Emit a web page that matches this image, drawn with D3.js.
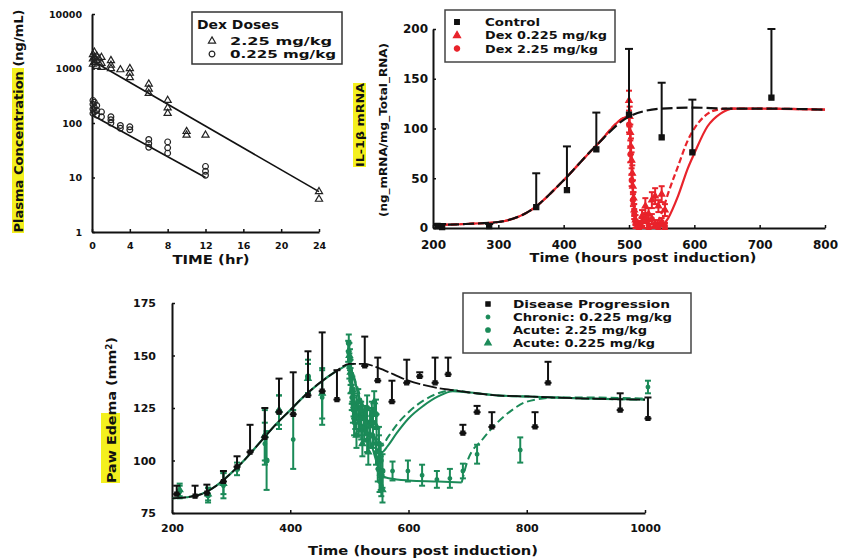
<!DOCTYPE html>
<html>
<head>
<meta charset="utf-8">
<script src="https://cdn.jsdelivr.net/npm/d3@7"></script>
<style>
  body { margin: 0; background: #fff; }
  text { font-family: "DejaVu Sans", sans-serif; font-weight: bold; fill: #111; }
</style>
</head>
<body>
<script>
// ---------- data : plasma concentration (top left) ----------
var pkHighDose = [[0.1,1800],[0.1,1500],[0.1,1200],[0.25,2000],[0.25,1600],[0.25,1300],[0.5,1700],[0.5,1400],[0.5,1100],
  [0.75,1500],[1,1600],[1,1250],[1,1050],[2,1400],[2,1150],[2,1000],[3,950],[4,1000],[4,820],[4,680],[6,520],[6,420],[6,350],
  [8,260],[8,190],[8,150],[10,70],[10,60],[12,60],[24,5.5],[24,4]];
var pkLowDose = [[0.1,260],[0.1,220],[0.1,180],[0.1,150],[0.25,240],[0.25,190],[0.25,160],[0.5,210],[0.5,170],[0.5,140],
  [1,160],[1,130],[2,130],[2,115],[2,100],[3,90],[3,80],[4,85],[4,75],[6,50],[6,42],[6,36],[8,45],[8,35],[8,28],[12,16],[12,13],[12,11]];
var pkHighFit = [[0,1400],[24,5.5]];
var pkLowFit = [[0,140],[12,10]];
var pkXTicks = [0,4,8,12,16,20,24];
var pkYTicks = [1,10,100,1000,10000];

// ---------- data : IL-1b mRNA (top right) ----------
var ilControl = [[207,2,2],[214,1,3],[286,2,2],[358,21,34],[405,38,44],[450,79,37],[500,114,66],[550,91,55],[597,76,53],[718,131,69]];
var ilLowDose = [[500,128,10],[501,112,10],[502,96,8],[503,82,8],[504,68,8],[505,55,8],[506,42,6],[507,30,6],[508,18,6],[510,8,5],
  [515,3,4],[520,12,6],[525,22,8],[530,14,6],[535,28,8],[540,32,8],[545,22,6],[550,34,8],[555,18,6]];
var ilHighDose = [[500,104,8],[502,74,8],[504,48,6],[506,28,6],[508,14,5],[510,4,4],[515,2,3],[520,6,4],[525,10,5],[530,3,4],
  [535,9,5],[540,4,4],[545,2,3],[550,6,4],[555,2,3]];
var ilControlFit = [[200,3],[250,4],[300,6],[350,18],[400,48],[450,83],[500,112],[550,120],[600,121],[650,120],[700,120],[800,119]];
var ilLowFit = [[200,3],[250,4],[300,6],[350,18],[400,48],[450,83],[500,112],[503,80],[506,40],[510,8],[520,0],[530,0],[540,3],
  [550,15],[560,35],[575,62],[590,88],[600,100],[615,112],[630,118],[650,120],[700,120],[800,119]];
var ilHighFit = [[200,3],[250,4],[300,6],[350,18],[400,48],[450,83],[500,112],[503,75],[506,35],[510,5],[520,0],[540,0],[550,2],
  [560,10],[575,32],[590,60],[600,75],[620,102],[640,115],[660,120],[700,120],[800,119]];
var ilXTicks = [200,300,400,500,600,700,800];
var ilYTicks = [0,50,100,150,200];

// ---------- data : paw edema (bottom) ----------
var pawDisease = [[208,84,4],[239,83,5],[259,84.5,4],[287,90,5],[310,97,5],[332,104,13],[357,111,14],[381,123,16],[405,122,20],
  [430,131,21],[454,133,28],[479,129,14],[526,145,14],[548,138,11],[572,128,10],[597,137,11],[619,140,2],[645,137,12],[667,141,8],
  [692,113,4],[716,123,3],[741,116,7],[814,116,7],[836,137,10],[958,124,8],[1005,120,10]];
var pawChronic = [[213,85,3],[287,88,6],[357,108,10],[405,110,14],[454,130,13],[498,152,5],[500,145,6],[502,138,6],[504,130,6],
  [506,124,6],[508,118,6],[512,125,6],[516,118,6],[520,122,6],[525,115,6],[530,110,6],[535,118,6],[540,112,6],[545,104,6],
  [548,96,6],[551,90,5],[554,88,5],[573,95,4.5],[599,95,5],[623,93,5],[648,91,4],[670,91.5,4.5],[692,95,3.5],[716,103,4.5],
  [789,105,6],[1005,135,3]];
var pawAcuteHigh = [[261,83.5,3.5],[310,96,3],[360,100,14],[381,123,8],[430,140,8],[499,156,4],[501,148,5],[503,141,5],
  [505,134,6],[507,127,6],[510,121,6],[515,128,6],[520,116,6],[525,120,6],[530,125,6],[535,112,6],[540,118,7],[545,122,7],
  [550,108,8],[553,100,8],[556,95,8]];
var pawAcuteLow = [[213,86,3],[261,84,3],[287,89,5],[357,112,12],[381,124,7],[430,139,7],[454,132,12],[500,150,6],[502,142,6],
  [504,133,6],[508,126,6],[512,112,6],[518,120,6],[522,108,6],[528,118,6],[532,104,6],[538,122,6],[542,128,5],[546,116,6],
  [550,104,8],[553,94,8],[556,86,6]];
var pawDiseaseFit = [[200,82],[225,82.5],[250,84],[275,88],[300,94],[325,101],[350,109],[375,117],[400,124],[425,131],[450,137],
  [475,142],[500,146],[525,146],[550,144],[575,141],[600,138],[625,136],[650,134.5],[675,133.5],[700,132.5],[750,131],[800,130.5],
  [900,129.5],[1000,129]];
var pawRise = [[200,82],[225,82.5],[250,84],[275,88],[300,94],[325,101],[350,109],[375,117],[400,124],[425,131],[450,137],[475,142],[500,146]];
var pawAcuteLowFit = [[510,137],[520,127],[530,118],[540,110],[548,105],[555,104],[565,107],[580,113],[600,120],[625,126],[650,130.5],
  [675,133],[700,132.5],[750,131],[800,130.5],[900,129.5],[1000,129]];
var pawAcuteHighFit = [[510,138],[520,129],[530,121],[540,113],[548,108],[555,107],[565,111],[580,117],[600,123],[625,128.5],[650,132],
  [675,133.5],[700,132.5],[750,131],[800,130.5],[900,129.5],[1000,129]];
var pawChronicFit = [[510,137],[520,126],[530,115],[540,105],[550,96],[560,92],[580,91],[600,90.5],[650,90],[690,89.5]];
var pawChronicOff = [[690,89.5],[700,100],[725,110],[750,118],[775,124],[800,128],[850,130],[900,130],[1000,129.5]];
var pawXTicks = [200,400,600,800,1000];
var pawYTicks = [75,100,125,150,175];

var RED = "#e8232b", GREEN = "#1b8a58", YELLOW = "#f4f01e";

var svg = d3.select("body").append("svg").attr("width", 844).attr("height", 559);

// ---------- helpers ----------
function styleAxis(g, fs) {
  g.select(".domain").attr("stroke", "#111").attr("stroke-width", 2);
  g.selectAll(".tick line").attr("stroke", "#111").attr("stroke-width", 1.5);
  g.selectAll(".tick text").attr("font-size", fs).attr("fill", "#111")
    .attr("font-family", "DejaVu Sans").attr("font-weight", "bold");
}
function errBars(g, data, sx, sy, color, upOnly, cw, bottomCap) {
  var e = g.append("g").selectAll("g").data(data).enter().append("g");
  e.append("line")
    .attr("x1", function(d){ return sx(d[0]); }).attr("x2", function(d){ return sx(d[0]); })
    .attr("y1", function(d){ return sy(upOnly ? d[1] : d[1]-d[2]); })
    .attr("y2", function(d){ return sy(d[1]+d[2]); })
    .attr("stroke", color).attr("stroke-width", 2);
  e.append("line")
    .attr("x1", function(d){ return sx(d[0])-cw; }).attr("x2", function(d){ return sx(d[0])+cw; })
    .attr("y1", function(d){ return sy(d[1]+d[2]); }).attr("y2", function(d){ return sy(d[1]+d[2]); })
    .attr("stroke", color).attr("stroke-width", 2);
  if (bottomCap) {
    e.append("line")
      .attr("x1", function(d){ return sx(d[0])-cw; }).attr("x2", function(d){ return sx(d[0])+cw; })
      .attr("y1", function(d){ return sy(upOnly ? d[1] : d[1]-d[2]); })
      .attr("y2", function(d){ return sy(upOnly ? d[1] : d[1]-d[2]); })
      .attr("stroke", color).attr("stroke-width", 2);
  }
}
function marks(g, data, sx, sy, type, size, fill, stroke) {
  g.append("g").selectAll("path").data(data).enter().append("path")
    .attr("transform", function(d){ return "translate(" + sx(d[0]) + "," + sy(d[1]) + ")"; })
    .attr("d", d3.symbol().type(type).size(size))
    .attr("fill", fill).attr("stroke", stroke).attr("stroke-width", 1.2);
}
function curve(g, data, sx, sy, color, w, dash) {
  g.append("path").datum(data)
    .attr("d", d3.line().x(function(d){ return sx(d[0]); }).y(function(d){ return sy(d[1]); }).curve(d3.curveMonotoneX))
    .attr("fill", "none").attr("stroke", color).attr("stroke-width", w)
    .attr("stroke-dasharray", dash || null);
}
function label(g, txt, x, y, fs, len, anchor, rot) {
  var t = g.append("text").attr("font-size", fs).text(txt)
    .attr("text-anchor", anchor || "start");
  if (len) t.attr("textLength", len).attr("lengthAdjust", "spacingAndGlyphs");
  if (rot) t.attr("transform", "translate(" + x + "," + y + ") rotate(-90)");
  else t.attr("x", x).attr("y", y);
  return t;
}

// =================== panel 1 : plasma concentration ===================
var x1 = d3.scaleLinear().domain([0, 24]).range([92, 319]);
var y1 = d3.scaleLog().domain([1, 10000]).range([232, 14]);
var p1 = svg.append("g");

p1.append("rect").attr("x", 12).attr("y", 68).attr("width", 12).attr("height", 165).attr("fill", YELLOW);
label(p1, "Plasma Concentration (ng/mL)", 22.5, 121, 12, 223, "middle", true);

p1.append("g").attr("transform", "translate(0,232)")
  .call(d3.axisBottom(x1).tickValues(pkXTicks).tickSizeInner(-3).tickSizeOuter(0).tickPadding(10).tickFormat(d3.format("d")))
  .call(styleAxis, 9.5);
p1.append("g").attr("transform", "translate(92,0)")
  .call(d3.axisLeft(y1).tickValues(pkYTicks).tickSizeInner(-3).tickSizeOuter(0).tickPadding(10).tickFormat(d3.format("d")))
  .call(styleAxis, 9.5);
label(p1, "TIME (hr)", 211, 264, 13, 77, "middle");

curve(p1, pkHighFit, x1, y1, "#111", 1.6);
curve(p1, pkLowFit, x1, y1, "#111", 1.6);
marks(p1, pkHighDose, x1, y1, d3.symbolTriangle, 22, "none", "#222");
marks(p1, pkLowDose, x1, y1, d3.symbolCircle, 26, "none", "#222");

p1.append("rect").attr("x", 192).attr("y", 12).attr("width", 150).attr("height", 52)
  .attr("fill", "#fff").attr("stroke", "#333").attr("stroke-width", 1.5);
label(p1, "Dex Doses", 197, 28.5, 12, 82);
marks(p1, [[0,0]], function(){ return 212; }, function(){ return 41; }, d3.symbolTriangle, 22, "none", "#222");
label(p1, "2.25 mg/kg", 230, 45, 11, 102);
marks(p1, [[0,0]], function(){ return 212; }, function(){ return 54; }, d3.symbolCircle, 26, "none", "#222");
label(p1, "0.225 mg/kg", 230, 58, 11, 106);

// =================== panel 2 : IL-1b mRNA ===================
var x2 = d3.scaleLinear().domain([200, 800]).range([433, 825]);
var y2 = d3.scaleLinear().domain([0, 200]).range([228, 29]);
var p2 = svg.append("g");

p2.append("rect").attr("x", 353).attr("y", 83).attr("width", 13).attr("height", 84).attr("fill", YELLOW);
label(p2, "IL-1\u03b2  mRNA", 363.5, 125, 10, 84, "middle", true);
label(p2, "(ng_mRNA/mg_Total_RNA)", 386.5, 130, 10, 174, "middle", true);

p2.append("g").attr("transform", "translate(0,228)")
  .call(d3.axisBottom(x2).tickValues(ilXTicks).tickSizeInner(-3).tickSizeOuter(0).tickPadding(12))
  .call(styleAxis, 12);
p2.append("g").attr("transform", "translate(433,0)")
  .call(d3.axisLeft(y2).tickValues(ilYTicks).tickSizeInner(-3).tickSizeOuter(0).tickPadding(5))
  .call(styleAxis, 12);
label(p2, "Time (hours post induction)", 643, 262, 13, 227, "middle");

curve(p2, ilHighFit, x2, y2, RED, 2.2);
curve(p2, ilLowFit, x2, y2, RED, 2.2, "6,3");
errBars(p2, ilLowDose, x2, y2, RED, false, 3, true);
errBars(p2, ilHighDose, x2, y2, RED, false, 3, true);
marks(p2, ilLowDose, x2, y2, d3.symbolTriangle, 18, RED, RED);
marks(p2, ilHighDose, x2, y2, d3.symbolCircle, 18, RED, RED);
curve(p2, ilControlFit, x2, y2, "#111", 2.2, "11,4");
errBars(p2, ilControl, x2, y2, "#111", true, 4, false);
marks(p2, ilControl, x2, y2, d3.symbolSquare, 26, "#111", "#111");

p2.append("rect").attr("x", 445).attr("y", 10).attr("width", 170).attr("height", 52)
  .attr("fill", "#fff").attr("stroke", "#444").attr("stroke-width", 1.5);
marks(p2, [[0,0]], function(){ return 457; }, function(){ return 22; }, d3.symbolSquare, 22, "#111", "#111");
label(p2, "Control", 485, 26, 10.5, 55);
marks(p2, [[0,0]], function(){ return 457; }, function(){ return 35.5; }, d3.symbolTriangle, 22, RED, RED);
label(p2, "Dex 0.225 mg/kg", 485, 39.3, 10.5, 122);
marks(p2, [[0,0]], function(){ return 457; }, function(){ return 48.5; }, d3.symbolCircle, 22, RED, RED);
label(p2, "Dex 2.25 mg/kg", 485, 52.5, 10.5, 113);

// =================== panel 3 : paw edema ===================
var x3 = d3.scaleLinear().domain([200, 1000]).range([172, 645]);
var y3 = d3.scaleLinear().domain([75, 175]).range([513, 303]);
var p3 = svg.append("g");

p3.append("rect").attr("x", 101).attr("y", 413).attr("width", 19).attr("height", 70).attr("fill", YELLOW);
var pt = label(p3, "Paw Edema (mm", 116, 410, 13, null, "middle", true);
pt.append("tspan").attr("baseline-shift", "super").attr("font-size", 8).text("2");
pt.append("tspan").text(")");
pt.attr("textLength", 146).attr("lengthAdjust", "spacingAndGlyphs");

p3.append("g").attr("transform", "translate(0,513)")
  .call(d3.axisBottom(x3).tickValues(pawXTicks).tickSizeInner(-3).tickSizeOuter(0).tickPadding(11).tickFormat(d3.format("d")))
  .call(styleAxis, 11);
p3.append("g").attr("transform", "translate(172,0)")
  .call(d3.axisLeft(y3).tickValues(pawYTicks).tickSizeInner(-3).tickSizeOuter(0).tickPadding(16))
  .call(styleAxis, 11);
label(p3, "Time (hours post induction)", 423, 555, 13, 230, "middle");

// green model curves
curve(p3, pawRise, x3, y3, GREEN, 2.2);
curve(p3, [[500,146]].concat(pawAcuteLowFit), x3, y3, GREEN, 2);
curve(p3, [[500,146]].concat(pawAcuteHighFit), x3, y3, GREEN, 2, "8,4");
curve(p3, [[500,146]].concat(pawChronicFit), x3, y3, GREEN, 2);
curve(p3, pawChronicOff, x3, y3, GREEN, 2, "8,4");
// green observations
errBars(p3, pawChronic, x3, y3, GREEN, false, 3, true);
errBars(p3, pawAcuteHigh, x3, y3, GREEN, false, 3, true);
errBars(p3, pawAcuteLow, x3, y3, GREEN, false, 3, true);
marks(p3, pawChronic, x3, y3, d3.symbolCircle, 10, GREEN, GREEN);
marks(p3, pawAcuteHigh, x3, y3, d3.symbolCircle, 18, GREEN, GREEN);
marks(p3, pawAcuteLow, x3, y3, d3.symbolTriangle, 18, GREEN, GREEN);
// disease progression
curve(p3, pawDiseaseFit, x3, y3, "#111", 1.8, "14,3");
errBars(p3, pawDisease, x3, y3, "#111", true, 3.5, true);
marks(p3, pawDisease, x3, y3, d3.symbolSquare, 16, "#111", "#111");

p3.append("rect").attr("x", 463).attr("y", 293).attr("width", 228).attr("height", 60)
  .attr("fill", "#fff").attr("stroke", "#444").attr("stroke-width", 1.5);
marks(p3, [[0,0]], function(){ return 488; }, function(){ return 304; }, d3.symbolSquare, 18, "#111", "#111");
label(p3, "Disease Progression", 513, 307.6, 10, 157);
marks(p3, [[0,0]], function(){ return 488; }, function(){ return 317; }, d3.symbolCircle, 10, GREEN, GREEN);
label(p3, "Chronic: 0.225 mg/kg", 513, 320.6, 10, 159);
marks(p3, [[0,0]], function(){ return 488; }, function(){ return 330; }, d3.symbolCircle, 16, GREEN, GREEN);
label(p3, "Acute: 2.25 mg/kg", 513, 333.6, 10, 134);
marks(p3, [[0,0]], function(){ return 488; }, function(){ return 343; }, d3.symbolTriangle, 18, GREEN, GREEN);
label(p3, "Acute: 0.225 mg/kg", 513, 346.6, 10, 142);
</script>
</body>
</html>
